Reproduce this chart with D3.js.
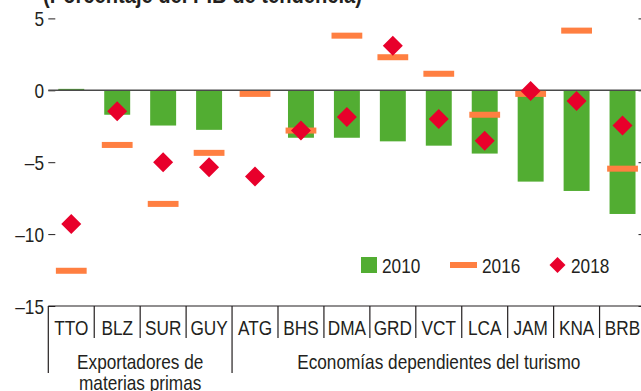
<!DOCTYPE html>
<html>
<head>
<meta charset="utf-8">
<script src="https://cdn.jsdelivr.net/npm/d3@7/dist/d3.min.js"></script>
<style>
  html, body { margin: 0; padding: 0; background: #fff; }
  svg { display: block; }
  text { font-family: "Liberation Sans Narrow", "Arial Narrow", "Liberation Sans", Arial, sans-serif; fill: #231f20; }
</style>
</head>
<body>
<svg id="chart" width="641" height="391"></svg>
<script>
// Saldo por país: 2010 (barras), 2016 (guiones), 2018 (rombos)
const countries = ["TTO", "BLZ", "SUR", "GUY", "ATG", "BHS", "DMA", "GRD", "VCT", "LCA", "JAM", "KNA", "BRB"];
const values2010 = [0.1, -1.7, -2.45, -2.75, null, -3.3, -3.3, -3.55, -3.85, -4.4, -6.35, -7.0, -8.6];
const values2016 = [-12.55, -3.8, -7.9, -4.35, -0.25, -2.8, 3.8, 2.3, 1.15, -1.7, -0.25, 4.15, -5.45];
const values2018 = [-9.3, -1.45, -5.0, -5.35, -6.0, -2.8, -1.85, 3.1, -2.0, -3.5, -0.05, -0.75, -2.45];
const yTicks = [5, 0, -5, -10, -15];
const groups = [
  { lines: ["Exportadores de", "materias primas"], from: "TTO", to: "GUY" },
  { lines: ["Economías dependientes del turismo"], from: "ATG", to: "BRB" }
];
const seriesNames = ["2010", "2016", "2018"];
const titleText = "(Porcentaje del PIB de tendencia)";

const colors = { bar: "#52ad32", dash: "#ff7f41", diamond: "#e8002b" };

const svg = d3.select("#chart");
const plotLeft = 48.3, plotRight = 645.5, plotTop = 18.4, plotBottom = 306;

const x = d3.scaleBand().domain(countries).range([plotLeft, plotRight]).paddingInner(0).paddingOuter(0);
const y = d3.scaleLinear().domain([-15, 5]).range([plotBottom, plotTop]);
const bw = x.bandwidth();
const barW = bw * 0.565;
const dashW = bw * 0.67, dashH = 6;
const dHalf = 10;

// Narrow lettering: regular sans squeezed horizontally
const squeeze = 0.82;
const narrow = (px, py) => `translate(${px},${py}) scale(${squeeze},1)`;

const fmt = v => (v < 0 ? "\u2013" + Math.abs(v) : String(v));

// Title (mostly above the visible area)
svg.append("text")
  .attr("x", 43).attr("y", 3)
  .attr("font-size", 24).attr("font-weight", "bold")
  .attr("textLength", 319).attr("lengthAdjust", "spacingAndGlyphs")
  .text(titleText);

// Left axis: inward ticks, no spine
const yLeft = svg.append("g").attr("transform", `translate(${plotLeft},0)`)
  .call(d3.axisRight(y).tickValues(yTicks).tickSize(7).tickFormat(""));
yLeft.select(".domain").remove();
yLeft.selectAll("line").attr("stroke", "#231f20");
svg.append("g").selectAll("text").data(yTicks).join("text")
  .attr("transform", d => narrow(44, y(d)))
  .attr("dy", "0.36em")
  .attr("text-anchor", "end").attr("font-size", 21)
  .text(fmt);

// Right axis: inward ticks
const yRight = svg.append("g").attr("transform", `translate(${plotRight},0)`)
  .call(d3.axisLeft(y).tickValues(yTicks).tickSize(7).tickFormat(""));
yRight.select(".domain").remove();
yRight.selectAll("line").attr("stroke", "#231f20");

// 2010 bars
svg.append("g").selectAll("rect")
  .data(countries.map((c, i) => ({ c, v: values2010[i] })).filter(d => d.v !== null))
  .join("rect")
  .attr("x", d => x(d.c) + (bw - barW) / 2)
  .attr("width", barW)
  .attr("y", d => y(Math.max(0, d.v)))
  .attr("height", d => Math.abs(y(d.v) - y(0)))
  .attr("fill", colors.bar);

// Zero line
svg.append("line")
  .attr("x1", plotLeft).attr("x2", plotRight)
  .attr("y1", y(0)).attr("y2", y(0))
  .attr("stroke", "#4a4a4a").attr("stroke-width", 1.6);

// 2016 dashes
svg.append("g").selectAll("rect")
  .data(countries.map((c, i) => ({ c, v: values2016[i] })))
  .join("rect")
  .attr("x", d => x(d.c) + (bw - dashW) / 2)
  .attr("width", dashW)
  .attr("y", d => y(d.v) - dashH / 2)
  .attr("height", dashH)
  .attr("fill", colors.dash);

// 2018 diamonds
const diamond = (cx, cy, h) => `M${cx},${cy - h}L${cx + h},${cy}L${cx},${cy + h}L${cx - h},${cy}Z`;
svg.append("g").selectAll("path")
  .data(countries.map((c, i) => ({ c, v: values2018[i] })))
  .join("path")
  .attr("d", d => diamond(x(d.c) + bw / 2, y(d.v), dHalf))
  .attr("fill", colors.diamond);

// Category axis
const xAxis = svg.append("g").attr("transform", `translate(0,${plotBottom})`);
xAxis.append("line").attr("x1", plotLeft).attr("x2", plotRight + 2).attr("stroke", "#231f20").attr("stroke-width", 1.2);
const groupEdges = new Set([countries[0], groups[1].from]);
const boundaries = countries.map(c => ({ x: x(c), long: groupEdges.has(c) }))
  .concat([{ x: plotRight, long: true }]);
xAxis.selectAll("line.sep").data(boundaries).join("line").attr("class", "sep")
  .attr("x1", d => d.x).attr("x2", d => d.x)
  .attr("y1", 0).attr("y2", d => d.long ? 67 : 32)
  .attr("stroke", "#231f20").attr("stroke-width", 1.2);
xAxis.selectAll("text.cat").data(countries).join("text").attr("class", "cat")
  .attr("transform", d => narrow(x(d) + bw / 2, 29))
  .attr("text-anchor", "middle").attr("font-size", 21)
  .text(d => d);

// Group labels
groups.forEach(g => {
  const cx = (x(g.from) + x(g.to) + bw) / 2;
  g.lines.forEach((line, i) => {
    xAxis.append("text")
      .attr("transform", narrow(cx, 63 + i * 21))
      .attr("text-anchor", "middle").attr("font-size", 21)
      .text(line);
  });
});

// Legend
const lg = svg.append("g");
const ly = 265;
lg.append("rect").attr("x", 361).attr("y", ly - 8).attr("width", 16).attr("height", 16).attr("fill", colors.bar);
lg.append("rect").attr("x", 450).attr("y", ly - 3).attr("width", 27).attr("height", 6).attr("fill", colors.dash);
lg.append("path").attr("d", diamond(557.5, ly, 8)).attr("fill", colors.diamond);
const legendX = [382, 482, 571];
lg.selectAll("text").data(seriesNames).join("text")
  .attr("transform", (d, i) => narrow(legendX[i], ly))
  .attr("dy", "0.36em")
  .attr("font-size", 21).text(d => d);
</script>
</body>
</html>
